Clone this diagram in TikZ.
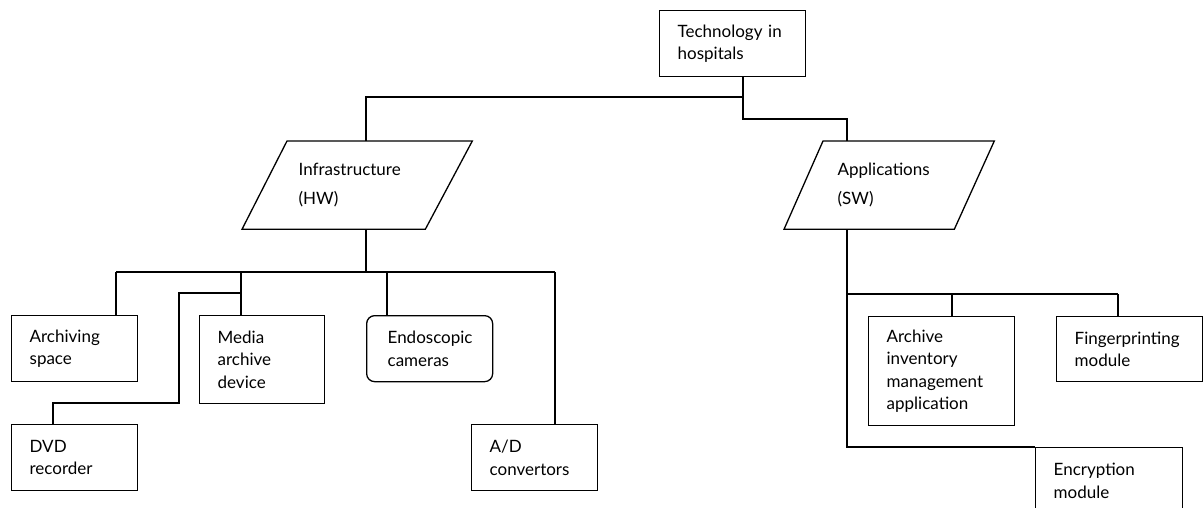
\documentclass[tikz,border=0pt]{standalone}
\usepackage{fontspec}
\setmainfont{Lato}
\begin{document}
\begin{tikzpicture}[x=1pt, y=-1pt, line width=1.3pt,
  every node/.style={font=\fontsize{17}{22.5}\selectfont},
  box/.style={draw, rectangle, anchor=north west, align=left,
    inner xsep=18pt, inner ysep=0pt},
  plate/.style={rectangle, anchor=north west, align=left,
    inner ysep=0pt},
  link/.style={line width=1.3pt}
]
\clip (0,0) rectangle (1204,508);
\useasboundingbox (0,0) rectangle (1204,508);

% root
\node[box, minimum width=146pt, minimum height=66pt, text width=110pt] (root) at (659,10)
  {Technology in\\hospitals};

% the two branches (parallelograms drawn around their text areas)
\node[plate, minimum width=229pt, minimum height=87pt, inner xsep=56pt, text width=117pt] (infra) at (242,141)
  {Infrastructure\\[7pt](HW)};
\draw ([xshift=45pt]infra.north west) -- (infra.north east)
  -- ([xshift=-47pt]infra.south east) -- (infra.south west) -- cycle;

\node[plate, minimum width=209pt, minimum height=87pt, inner xsep=53pt, text width=103pt] (apps) at (784,141)
  {Applications\\[7pt](SW)};
\draw ([xshift=39pt]apps.north west) -- (apps.north east)
  -- ([xshift=-40pt]apps.south east) -- (apps.south west) -- cycle;

% hardware items
\node[box, minimum width=126pt, minimum height=66pt, text width=90pt] (arch) at (11,315)
  {Archiving\\space};
\node[box, minimum width=125pt, minimum height=88pt, text width=89pt] (media) at (199,315)
  {Media\\archive\\device};
\node[box, rounded corners=8pt, minimum width=126pt, minimum height=66pt, inner xsep=21pt, text width=84pt] (endo) at (366,315)
  {Endoscopic\\cameras};
\node[box, minimum width=126pt, minimum height=66pt, text width=90pt] (dvd) at (11,424)
  {DVD\\recorder};
\node[box, minimum width=126pt, minimum height=66pt, text width=90pt] (adc) at (471,424)
  {A/D\\convertors};

% software items
\node[box, minimum width=146pt, minimum height=109pt, text width=110pt] (aima) at (868,316)
  {Archive\\inventory\\management\\application};
\node[box, minimum width=146pt, minimum height=65pt, text width=110pt] (finger) at (1056,316)
  {Fingerprinting\\module};
\node[box, minimum width=147pt, minimum height=66pt, text width=111pt] (encr) at (1035,447)
  {Encryption\\module};

% junction points
\coordinate (rj) at (743,97);
\coordinate (hwbus) at (366,272);
\coordinate (swx) at (847,228);

% root to branches
\draw[link] (root.south -| rj) -- (rj) -| (infra.north -| hwbus);
\draw[link] (rj) -- (743,119) -| (apps.north -| swx);

% hardware bus
\draw[link] (infra.south -| hwbus) -- (hwbus);
\draw[link] (116,272) -- (555,272);
\draw[link] (116,272) -- (arch.north -| 116,0);
\draw[link] (241,272) -- (media.north -| 241,0);
\draw[link] (387,272) -- (endo.north -| 387,0);
\draw[link] (555,272) -- (adc.north -| 555,0);
\draw[link] (241,293) -- (179,293) -- (179,403) -- (53,403) -- (dvd.north -| 53,0);

% software bus
\draw[link] (apps.south -| swx) -- (847,447) -- (encr.north west);
\draw[link] (847,294) -- (1118,294);
\draw[link] (952,294) -- (aima.north -| 952,0);
\draw[link] (1118,294) -- (finger.north -| 1118,0);
\end{tikzpicture}
\end{document}
